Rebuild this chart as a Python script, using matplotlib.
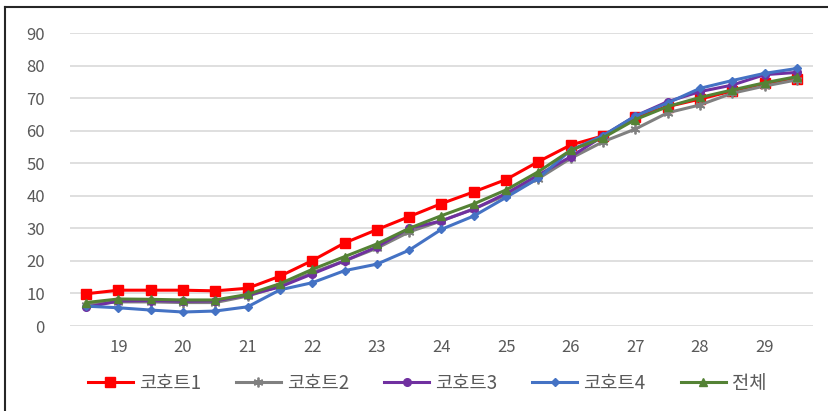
import matplotlib
matplotlib.use("Agg")
import matplotlib.pyplot as plt
from matplotlib.lines import Line2D

plt.rcParams['font.family'] = ['Noto Sans CJK KR', 'DejaVu Sans']

# Age in half-year steps
ages = [18.5, 19, 19.5, 20, 20.5, 21, 21.5, 22, 22.5, 23, 23.5, 24,
        24.5, 25, 25.5, 26, 26.5, 27, 27.5, 28, 28.5, 29, 29.5]
tick_ages = [19, 20, 21, 22, 23, 24, 25, 26, 27, 28, 29]

cohort1 = [9.9, 11.0, 11.0, 11.0, 10.8, 11.6, 15.3, 20.1, 25.5, 29.6, 33.6, 37.6,
           41.2, 45.0, 50.5, 55.6, 58.4, 64.3, 67.4, 69.7, 72.2, 74.5, 76.0]
cohort2 = [6.6, 7.4, 7.4, 7.2, 7.2, 9.2, 12.2, 16.4, 20.0, 23.9, 28.9, 32.3,
           36.0, 40.2, 45.3, 51.5, 56.6, 60.5, 65.5, 67.9, 71.5, 73.7, 75.6]
cohort3 = [5.7, 7.7, 7.8, 7.6, 7.7, 9.5, 12.0, 16.0, 20.0, 24.3, 30.0, 32.3,
           35.9, 40.7, 46.4, 52.0, 58.3, 64.5, 68.9, 72.0, 74.0, 77.2, 77.9]
cohort4 = [6.1, 5.6, 4.9, 4.3, 4.6, 5.9, 11.1, 13.3, 17.0, 19.0, 23.3, 29.7,
           33.8, 39.5, 45.4, 54.0, 58.5, 64.5, 68.5, 73.0, 75.4, 77.6, 79.1]
total = [7.2, 8.3, 8.2, 8.0, 8.0, 9.7, 13.0, 17.4, 21.3, 25.2, 30.0, 33.9,
         37.5, 41.8, 47.4, 54.0, 57.8, 63.4, 67.4, 70.2, 72.5, 74.7, 76.6]

labels = ['코호트1', '코호트2', '코호트3', '코호트4', '전체']

fig = plt.figure(figsize=(8.29, 4.11), dpi=100)
ax = fig.add_axes([0.0844, 0.2068, 0.8963, 0.7129])

ax.plot(ages, cohort1, color='#FF0000', lw=2.2, marker='s', ms=7.5, label=labels[0], zorder=3)
ax.plot(ages, cohort2, color='#808080', lw=2.2, marker=(6, 2, 0), ms=7, mew=1.3,
        label=labels[1], zorder=4)
ax.plot(ages, cohort3, color='#7030A0', lw=2.2, marker='o', ms=5.5, label=labels[2], zorder=5)
ax.plot(ages, cohort4, color='#4472C4', lw=2.2, marker='D', ms=3.6, label=labels[3], zorder=6)
ax.plot(ages, total, color='#548235', lw=2.2, marker='^', ms=5.5, label=labels[4], zorder=7)

ax.set_xlim(18.25, 29.75)
ax.set_ylim(0, 90)
ax.set_yticks(range(0, 91, 10))
ax.set_xticks(tick_ages)
ax.grid(axis='y', color='#D9D9D9', lw=1.2)
ax.set_axisbelow(True)
for s in ax.spines.values():
    s.set_visible(False)
ax.tick_params(axis='both', length=0, labelsize=12, labelcolor='#595959')
ax.tick_params(axis='y', pad=18)
ax.tick_params(axis='x', pad=9)

leg = fig.legend(loc='center', bbox_to_anchor=(427 / 829, 1 - 383 / 411), ncol=5, frameon=False,
                 fontsize=13.5, handlelength=2.4, handletextpad=0.32, columnspacing=1.87)
for t in leg.get_texts():
    t.set_color('#595959')

# Frame edges along the top and left of the figure
fig.add_artist(Line2D([5 / 829, 1], [1 - 7 / 411, 1 - 7 / 411], transform=fig.transFigure,
                      color='#262626', lw=1.5))
fig.add_artist(Line2D([5 / 829, 5 / 829], [0, 1 - 7 / 411], transform=fig.transFigure,
                      color='#262626', lw=1.5))

fig.savefig('out.png', dpi=100)
